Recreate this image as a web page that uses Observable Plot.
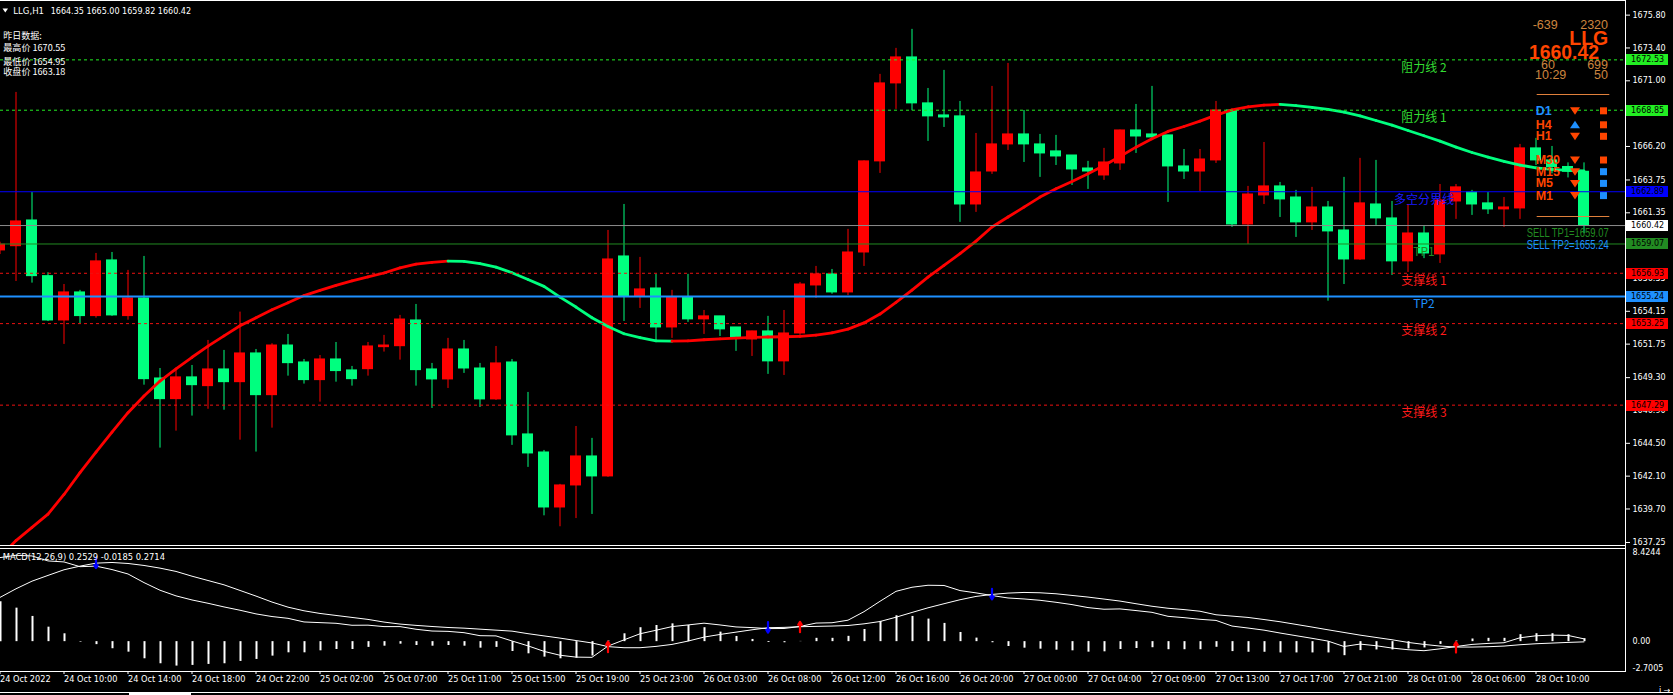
<!DOCTYPE html>
<html><head><meta charset="utf-8">
<script src="https://cdn.jsdelivr.net/npm/d3@7"></script>
<script src="https://cdn.jsdelivr.net/npm/@observablehq/plot@0.6"></script>
<style>
html,body{margin:0;padding:0;background:#000;overflow:hidden;}
#wrap{position:relative;width:1673px;height:695px;overflow:hidden;background:#000;}
#main{position:absolute;left:0;top:0;}
#macd{position:absolute;left:0;top:547px;}
#ov{position:absolute;left:0;top:0;pointer-events:none;}
</style></head><body>
<div id="wrap"><div id="main"></div><div id="macd"></div><svg id="ov" width="1673" height="695"></svg></div>
<script>
// ---------------- DATA ----------------
const openP = [1658.60,1658.91,1660.79,1656.72,1653.48,1655.53,1653.80,1657.87,1653.80,1655.09,
1649.24,1647.73,1649.32,1648.68,1649.90,1648.97,1651.07,1648.02,1651.65,1650.41,
1649.12,1650.63,1649.83,1649.92,1651.53,1651.60,1653.48,1649.90,1649.17,1651.36,
1649.97,1647.71,1650.41,1645.15,1643.83,1639.81,1641.42,1643.54,1642.08,1658.16,
1655.24,1655.82,1652.97,1655.16,1653.56,1653.78,1652.97,1652.09,1652.68,1650.49,
1652.53,1656.04,1656.85,1655.53,1658.45,1665.11,1670.81,1672.71,1669.35,1668.47,
1668.40,1661.96,1664.37,1666.35,1667.08,1666.35,1665.84,1665.54,1664.59,1664.08,
1664.96,1667.37,1667.08,1667.01,1664.74,1664.37,1665.18,1668.83,1660.50,1662.62,
1663.28,1662.47,1660.65,1661.74,1660.06,1657.94,1661.96,1660.94,1657.80,1659.84,
1658.31,1662.18,1662.84,1662.04,1661.60,1661.67,1666.06,1665.18,1664.70,1664.35];
const highP = [1659.20,1670.15,1662.84,1656.97,1656.11,1655.68,1658.38,1658.45,1657.14,1658.16,
1649.97,1649.83,1650.19,1652.02,1651.29,1654.09,1651.36,1651.78,1652.46,1650.63,
1650.92,1651.87,1650.12,1651.87,1652.39,1653.85,1654.65,1650.34,1652.17,1652.02,
1650.34,1651.58,1650.63,1648.22,1643.98,1641.50,1645.73,1644.86,1660.06,1661.96,
1658.09,1656.85,1655.68,1656.85,1654.21,1653.78,1652.97,1652.70,1653.78,1654.21,
1656.26,1657.43,1657.21,1660.14,1665.15,1671.47,1673.37,1674.76,1670.44,1671.76,
1669.49,1667.15,1670.59,1672.27,1668.83,1667.08,1667.01,1665.54,1665.11,1666.06,
1667.40,1669.27,1670.59,1667.01,1665.98,1665.98,1669.49,1668.91,1663.28,1666.49,
1663.57,1662.99,1663.21,1662.18,1663.94,1665.33,1665.18,1662.18,1661.96,1660.35,
1663.42,1663.42,1662.99,1662.84,1662.47,1666.35,1666.79,1666.20,1665.00,1665.00];
const lowP = [1658.30,1656.33,1656.21,1653.40,1651.73,1653.24,1653.65,1653.78,1653.50,1648.75,
1644.15,1645.39,1646.49,1646.99,1646.92,1644.73,1643.86,1645.61,1649.41,1648.83,
1647.51,1648.97,1648.68,1649.41,1651.17,1650.58,1648.68,1647.05,1648.51,1649.61,
1647.12,1647.63,1644.35,1642.74,1639.20,1638.40,1639.00,1639.30,1642.01,1653.41,
1654.36,1652.02,1652.17,1653.34,1652.46,1652.31,1651.22,1650.85,1649.54,1649.46,
1652.39,1655.09,1655.40,1655.30,1657.43,1664.23,1668.91,1668.81,1666.57,1667.59,
1660.65,1661.38,1664.16,1665.91,1665.03,1663.94,1664.81,1663.35,1663.06,1663.72,
1664.45,1665.69,1666.64,1662.11,1663.79,1662.91,1664.96,1660.28,1659.04,1661.96,
1661.01,1659.55,1660.06,1654.89,1656.11,1657.87,1660.43,1656.77,1656.99,1658.00,
1657.65,1660.87,1661.16,1661.23,1660.28,1660.87,1664.81,1664.20,1663.90,1659.82];
const closeP = [1659.02,1660.72,1656.72,1653.48,1655.53,1653.80,1657.80,1653.85,1655.09,1649.19,
1647.73,1649.32,1648.75,1649.90,1648.97,1651.07,1648.02,1651.65,1650.36,1649.12,
1650.63,1649.78,1649.19,1651.58,1651.65,1653.55,1649.85,1649.17,1651.36,1649.97,
1647.71,1650.34,1645.08,1643.76,1639.81,1641.42,1643.54,1642.08,1657.94,1655.24,
1655.75,1652.97,1655.16,1653.56,1653.78,1652.83,1652.24,1652.68,1650.49,1652.53,
1656.11,1656.85,1655.53,1658.45,1665.11,1670.81,1672.71,1669.35,1668.40,1668.32,
1661.96,1664.30,1666.35,1667.08,1666.35,1665.69,1665.47,1664.52,1664.37,1665.03,
1667.37,1666.93,1666.86,1664.74,1664.37,1665.25,1668.83,1660.50,1662.69,1663.28,
1662.33,1660.65,1661.74,1659.99,1657.94,1662.04,1660.94,1657.80,1659.84,1658.38,
1662.25,1663.21,1661.96,1661.60,1661.74,1666.06,1665.18,1664.70,1664.35,1660.42];
const maLine = [1636.20,1637.39,1638.35,1639.32,1640.76,1642.36,1643.86,1645.32,1646.74,1647.96,
1649.05,1649.94,1650.79,1651.60,1652.35,1653.09,1653.67,1654.26,1654.78,1655.30,
1655.68,1656.04,1656.37,1656.66,1656.95,1657.32,1657.60,1657.72,1657.82,1657.80,
1657.63,1657.38,1656.97,1656.48,1655.97,1655.19,1654.46,1653.68,1653.04,1652.51,
1652.22,1651.99,1651.97,1651.99,1652.07,1652.14,1652.19,1652.24,1652.27,1652.29,
1652.31,1652.41,1652.58,1652.85,1653.30,1653.95,1654.80,1655.70,1656.65,1657.50,
1658.36,1659.28,1660.31,1661.04,1661.77,1662.50,1663.11,1663.64,1664.20,1664.81,
1665.47,1666.15,1666.76,1667.30,1667.66,1668.05,1668.49,1668.87,1669.10,1669.22,
1669.27,1669.18,1669.05,1668.91,1668.71,1668.44,1668.10,1667.76,1667.37,1666.98,
1666.59,1666.15,1665.76,1665.42,1665.11,1664.84,1664.64,1664.52,1664.45,1664.42];
const macdMain = [7.60,7.81,7.75,7.30,7.21,6.78,6.83,6.52,6.12,5.34,
4.65,4.14,3.77,3.47,3.14,2.84,2.51,2.27,2.11,1.78,
1.72,1.66,1.48,1.49,1.36,1.36,1.12,0.96,0.93,0.81,
0.54,0.52,0.06,-0.38,-0.88,-1.23,-1.40,-1.42,-0.40,0.16,
0.71,1.03,1.36,1.51,1.67,1.51,1.33,1.27,1.18,1.19,
1.37,1.68,1.71,1.94,2.71,3.65,4.55,4.92,5.10,5.08,
4.62,4.41,4.17,3.95,3.86,3.74,3.56,3.35,3.08,2.93,
2.96,2.81,2.65,2.29,2.17,2.02,1.92,1.41,1.23,1.04,
0.78,0.54,0.30,0.05,-0.44,-0.22,-0.37,-0.58,-0.73,-0.82,
-0.65,-0.44,-0.25,-0.16,-0.10,0.35,0.53,0.59,0.56,0.25];
const macdSignal = [4.00,4.78,5.47,5.99,6.50,6.83,7.10,7.16,7.07,6.89,
6.65,6.35,5.92,5.53,5.14,4.63,4.12,3.58,3.12,2.79,
2.55,2.37,2.19,2.01,1.77,1.59,1.47,1.37,1.28,1.22,
1.13,1.04,0.95,0.72,0.52,0.32,0.10,-0.12,-0.45,-0.55,
-0.55,-0.43,-0.25,0.05,0.41,0.65,0.86,1.07,1.26,1.29,
1.35,1.38,1.41,1.46,1.61,1.82,2.21,2.64,3.06,3.43,
3.79,4.09,4.27,4.39,4.45,4.42,4.33,4.18,4.03,3.85,
3.67,3.43,3.20,3.02,2.90,2.75,2.43,2.31,2.19,2.00,
1.80,1.56,1.32,1.07,0.83,0.59,0.38,0.17,-0.07,-0.25,
-0.40,-0.49,-0.49,-0.46,-0.40,-0.28,-0.19,-0.13,-0.07,-0.02];
const macdHist = [3.60,3.03,2.28,1.31,0.71,-0.05,-0.27,-0.64,-0.95,-1.55,
-2.00,-2.21,-2.15,-2.06,-2.00,-1.79,-1.61,-1.31,-1.01,-1.01,
-0.83,-0.71,-0.71,-0.52,-0.41,-0.23,-0.35,-0.41,-0.35,-0.41,
-0.59,-0.52,-0.89,-1.10,-1.40,-1.55,-1.50,-1.30,0.05,0.71,
1.26,1.46,1.61,1.46,1.26,0.86,0.47,0.20,-0.08,-0.10,
0.02,0.30,0.30,0.48,1.10,1.83,2.34,2.28,2.04,1.65,
0.83,0.32,-0.10,-0.44,-0.59,-0.68,-0.77,-0.83,-0.95,-0.92,
-0.71,-0.62,-0.55,-0.73,-0.73,-0.73,-0.51,-0.90,-0.96,-0.96,
-1.02,-1.02,-1.02,-1.02,-1.27,-0.81,-0.75,-0.75,-0.66,-0.57,
-0.25,0.05,0.24,0.30,0.30,0.63,0.72,0.72,0.63,0.27];
const crossBars = [6, 38, 48, 50, 62, 91];
const crossDir = ["down","up","down","up","down","up"];
const xLabels = ["24 Oct 2022","24 Oct 10:00","24 Oct 14:00","24 Oct 18:00","24 Oct 22:00","25 Oct 02:00","25 Oct 07:00","25 Oct 11:00","25 Oct 15:00","25 Oct 19:00","25 Oct 23:00","26 Oct 03:00","26 Oct 08:00","26 Oct 12:00","26 Oct 16:00","26 Oct 20:00","27 Oct 00:00","27 Oct 04:00","27 Oct 09:00","27 Oct 13:00","27 Oct 17:00","27 Oct 21:00","28 Oct 01:00","28 Oct 06:00","28 Oct 10:00"];
const xLabelBars = [0,4,8,12,16,20,24,28,32,36,40,44,48,52,56,60,64,68,72,76,80,84,88,92,96];
const yTicks = [1675.80,1673.40,1671.00,1668.60,1666.20,1663.75,1661.35,1658.95,1656.55,1654.15,1651.75,1649.30,1646.90,1644.50,1642.10,1639.70,1637.25];
const macdTickLabels = ["8.4244","0.00","-2.7005"];
const macdTickValues = [8.4244, 0, -2.7005];
const macdLegend = "MACD(12,26,9) 0.2529 -0.0185 0.2714";
const levelPrices = [1672.53, 1668.85, 1662.89, 1660.42, 1659.07, 1656.93, 1655.24, 1653.25, 1647.29];
const levelNames = ["阻力线 2","阻力线 1","多空分界线","","TP1","支撑线 1","TP2","支撑线 2","支撑线 3"];
const levelKinds = ["res","res","pivot","bid","tp1","sup","tp2","sup","sup"];
const tfNames = ["D1","H4","H1","M30","M15","M5","M1"];
const tfTrend = ["down","up","down","down","down","down","down"];
const tfSignal = ["sell","sell","sell","sell","buy","buy","buy"];
const ohlcNow = ["1664.35","1665.00","1659.82","1660.42"];
const yesterday = [["最高价","1670.55"],["最低价","1654.95"],["收盘价","1663.18"]];
const infoNumbers = ["-639","2320","60","699","10:29","50"];
const sellTargets = ["SELL TP1=1659.07","SELL TP2=1655.24"];

// ---------------- STYLE ----------------
const RED = "#ff0000", SGREEN = "#00ff7f", LIME = "#22ee22", ORANGERED = "#ff4500", DODGER = "#1e90ff", PERU = "#cd853f";
const kindStyle = {
  res:  {stroke: LIME, dash: "3,3", w: 1, tag: LIME, tagText: "#000", label: "#33dd33"},
  pivot:{stroke: "#0000ff", dash: null, w: 1, tag: "#0000ff", tagText: "#000", label: "#1a1aff"},
  bid:  {stroke: "#8c8c8c", dash: null, w: 1, tag: "#ffffff", tagText: "#000", label: "#fff"},
  tp1:  {stroke: "#228b22", dash: null, w: 1, tag: "#228b22", tagText: "#000", label: "#228b22"},
  sup:  {stroke: "#ee1111", dash: "3,3", w: 1, tag: "#ff0000", tagText: "#000", label: "#ff1a1a"},
  tp2:  {stroke: DODGER, dash: null, w: 2, tag: DODGER, tagText: "#000", label: DODGER}
};
const XDOM = [0.03125, 101.59375];
const YDOM = [1637.03, 1676.87];
const HALF = 0.34375;
const LABEL_BAR = 89;
const FONT = "DejaVu Sans, Noto Sans CJK SC, sans-serif";

const N = openP.length;
const candles = d3.range(N).map(i => ({i, o: openP[i], h: highP[i], l: lowP[i], c: closeP[i]}));
const candleColor = d => d.c >= d.o ? RED : SGREEN;
const maSegs = d3.range(N - 1).map(i => ({a: i, b: i + 1, ya: maLine[i], yb: maLine[i + 1]}));
const levels = levelPrices.map((p, k) => ({p, name: levelNames[k], ...kindStyle[levelKinds[k]]}));

const levelMarks = levels.map(L => Plot.ruleY([L.p], {stroke: L.stroke, strokeWidth: L.w, strokeDasharray: L.dash || undefined}));
const labelData = levels.filter(L => L.name);

const tagMark = (index, scales, values, dims) => {
  const g = d3.create("svg:g").attr("text-anchor", "start");
  const x0 = dims.width - dims.marginRight + 1;
  for (const L of levels) {
    const y = Math.round(scales.y(L.p));
    g.append("rect").attr("x", x0).attr("y", y - 5).attr("width", 42).attr("height", 11).attr("fill", L.tag);
    g.append("text").attr("x", x0 + 5).attr("y", y + 0.5).attr("dominant-baseline", "central")
      .attr("text-anchor", "start")
      .attr("fill", L.tagText).attr("font-family", FONT).attr("font-size", 8).text(L.p.toFixed(2));
  }
  return g.node();
};

const mainPlot = Plot.plot({
  width: 1673, height: 547,
  marginLeft: 0, marginRight: 48, marginTop: 0, marginBottom: 2,
  x: {domain: XDOM, axis: null},
  y: {domain: YDOM},
  color: {type: "identity"},
  style: {background: "#000", color: "#fff", fontFamily: FONT, fontSize: "8px"},
  marks: [
    Plot.axisY({anchor: "right", ticks: yTicks, tickFormat: d => d.toFixed(2), tickSize: 4, tickPadding: 3, fontSize: 8}),
    Plot.ruleX(candles, {x: "i", y1: "l", y2: "h", stroke: candleColor, strokeWidth: 1}),
    Plot.rect(candles, {x1: d => d.i - HALF, x2: d => d.i + HALF, y1: "o", y2: "c", fill: candleColor, insetTop: -0.5, insetBottom: -0.5}),
    Plot.link(maSegs, {x1: "a", y1: "ya", x2: "b", y2: "yb", stroke: d => d.yb >= d.ya ? RED : SGREEN, strokeWidth: 2.8, strokeLinecap: "round", clip: true}),
    ...levelMarks,
    Plot.text(labelData, {x: () => LABEL_BAR, y: "p", text: "name", fill: "label", textAnchor: "middle", dy: 8, fontSize: 12, fontFamily: "Noto Sans CJK SC, DejaVu Sans"}),
    tagMark
  ]
});
document.getElementById("main").appendChild(mainPlot);

const histData = d3.range(N).map(i => ({i, h: macdHist[i]}));
const mainData = d3.range(N).map(i => ({i, v: macdMain[i]}));
const sigData = d3.range(N).map(i => ({i, v: macdSignal[i]}));
const crosses = crossBars.map((i, k) => ({i, v: macdSignal[i], dir: crossDir[k]}));
const macdTicks = macdTickValues.map((v, k) => ({v, t: macdTickLabels[k]}));

const macdPlot = Plot.plot({
  width: 1673, height: 148,
  marginLeft: 0, marginRight: 48, marginTop: 1, marginBottom: 24,
  x: {domain: XDOM},
  y: {domain: [-2.7005, 8.4244], axis: null},
  color: {type: "identity"},
  style: {background: "#000", color: "#fff", fontFamily: FONT, fontSize: "8px"},
  marks: [
    Plot.ruleX(histData, {x: "i", y1: 0, y2: "h", stroke: "#fff", strokeWidth: 2, dx: 0.5}),
    Plot.line(sigData, {x: "i", y: "v", stroke: "#fff", strokeWidth: 1}),
    Plot.line(mainData, {x: "i", y: "v", stroke: "#fff", strokeWidth: 1}),
    Plot.arrow(crosses.filter(d => d.dir === "down"), {x1: "i", x2: "i", y1: d => d.v + 0.5, y2: d => d.v - 0.45, stroke: "#0000ff", strokeWidth: 2.2, headLength: 5}),
    Plot.arrow(crosses.filter(d => d.dir === "up"), {x1: "i", x2: "i", y1: d => d.v - 0.5, y2: d => d.v + 0.45, stroke: "#ff0000", strokeWidth: 2.2, headLength: 5}),
    Plot.axisX({ticks: xLabelBars, tickSize: 3, tickFormat: () => "", anchor: "bottom"}),
    Plot.text(xLabelBars, {x: d => d, text: (d, k) => xLabels[k], frameAnchor: "bottom", textAnchor: "start", dy: 10, fill: "#fff", fontSize: 8.2}),
    Plot.text(macdTicks.slice(0, 1), {x: () => XDOM[1], y: "v", text: "t", textAnchor: "start", lineAnchor: "top", dx: 7, dy: 1, fill: "#fff", fontSize: 8}),
    Plot.text(macdTicks.slice(1, 2), {x: () => XDOM[1], y: "v", text: "t", textAnchor: "start", dx: 7, fill: "#fff", fontSize: 8}),
    Plot.text(macdTicks.slice(2, 3), {x: () => XDOM[1], y: "v", text: "t", textAnchor: "start", lineAnchor: "bottom", dx: 7, dy: -1, fill: "#fff", fontSize: 8})
  ]
});
document.getElementById("macd").appendChild(macdPlot);

// ---------------- OVERLAY (frames & annotations) ----------------
const ov = d3.select("#ov");
function L(x1, y1, x2, y2, c, w = 1) { ov.append("line").attr("x1", x1).attr("y1", y1).attr("x2", x2).attr("y2", y2).attr("stroke", c).attr("stroke-width", w); }
function T(x, y, s, o = {}) {
  const t = ov.append("text").attr("x", x).attr("y", y).attr("dominant-baseline", "central")
    .attr("fill", o.fill || "#fff").attr("font-family", o.family || FONT)
    .attr("font-size", o.size || 8.3).attr("font-weight", o.weight || "normal")
    .attr("text-anchor", o.anchor || "start").text(s);
  if (o.len) t.attr("textLength", o.len).attr("lengthAdjust", "spacingAndGlyphs");
  return t;
}
// frames
L(0, 0.5, 1625, 0.5, "#fff");
L(1625.5, 0, 1625.5, 672, "#fff");
L(0, 545.5, 1625, 545.5, "#fff");
L(0, 548.5, 1625, 548.5, "#fff");
L(0, 671.5, 1626, 671.5, "#fff");
L(0, 692.5, 1673, 692.5, "#fff");
ov.append("rect").attr("x", 129).attr("y", 693).attr("width", 62).attr("height", 2).attr("fill", "#fff");

// top-left info
ov.append("polygon").attr("points", "2.5,8.5 8,8.5 5.25,12.5").attr("fill", "#fff");
T(13.3, 10.7, "LLG,H1", {len: 30.7});
T(50.7, 10.7, ohlcNow.join(" "), {len: 140.3});
T(3.3, 35.7, "昨日数据:", {size: 9, family: "Noto Sans CJK SC, DejaVu Sans"});
const yRows = [47.3, 61, 71.7];
yesterday.forEach((r, k) => T(3.3, yRows[k], r[0] + " " + r[1], {size: 9, len: 62, family: "Noto Sans CJK SC, DejaVu Sans"}));

// MACD legend
T(2.7, 556.7, macdLegend, {len: 162.3});

// top-right info panel
const IF = "Liberation Sans, Arial, sans-serif";
T(1532.7, 24.7, infoNumbers[0], {fill: PERU, size: 12.5, family: IF});
T(1608, 24.7, infoNumbers[1], {fill: PERU, size: 12.5, family: IF, anchor: "end"});
T(1608.3, 38, "LLG", {fill: ORANGERED, size: 19.5, weight: "bold", family: IF, anchor: "end"});
T(1599, 51.7, ohlcNow[3], {fill: ORANGERED, size: 20, weight: "bold", family: IF, anchor: "end", len: 70});
T(1541, 65, infoNumbers[2], {fill: PERU, size: 12.5, family: IF});
T(1608, 65, infoNumbers[3], {fill: PERU, size: 12.5, family: IF, anchor: "end"});
T(1535, 75, infoNumbers[4], {fill: PERU, size: 12.5, family: IF});
T(1608, 75, infoNumbers[5], {fill: PERU, size: 12.5, family: IF, anchor: "end"});
L(1536.7, 94.5, 1609.3, 94.5, "#e0803c");
L(1536.7, 216.5, 1609.3, 216.5, "#e0803c");
const rowY = [110.8, 124.8, 136.3, 160, 171.7, 183.4, 195.6];
tfNames.forEach((n, k) => {
  const yc = rowY[k];
  T(1535.7, yc, n, {fill: k === 0 ? DODGER : ORANGERED, size: 12.5, weight: "bold", family: IF});
  const up = tfTrend[k] === "up";
  const pts = up ? [[1570, yc + 3.5], [1580, yc + 3.5], [1575, yc - 4]] : [[1570, yc - 3.5], [1580, yc - 3.5], [1575, yc + 4]];
  ov.append("polygon").attr("points", pts.map(p => p.join(",")).join(" ")).attr("fill", up ? DODGER : ORANGERED);
  ov.append("rect").attr("x", 1600).attr("y", yc - 3.5).attr("width", 7).attr("height", 7).attr("fill", tfSignal[k] === "sell" ? ORANGERED : DODGER);
});
T(1608.7, 233.3, sellTargets[0], {anchor: "end", fill: "#228b22", size: 12.5, len: 82, family: IF});
T(1608.7, 245, sellTargets[1], {anchor: "end", fill: DODGER, size: 12.5, len: 82, family: IF});
</script>
</body></html>
